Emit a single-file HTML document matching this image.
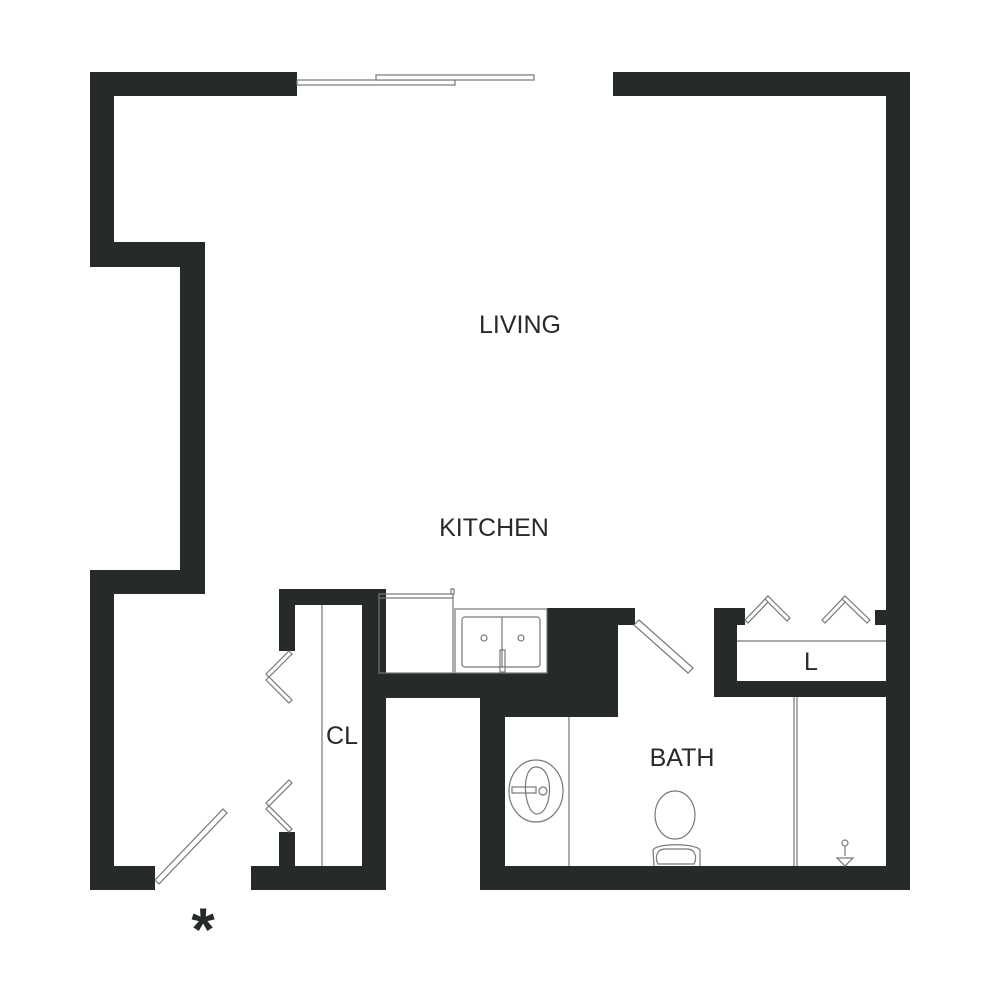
<!DOCTYPE html>
<html><head><meta charset="utf-8"><style>
html,body{margin:0;padding:0;background:#fff}
svg{display:block}
text{font-family:"Liberation Sans",sans-serif;fill:#262a29}
</style></head><body>
<svg width="1000" height="1000" viewBox="0 0 1000 1000" xmlns="http://www.w3.org/2000/svg">
<g fill="#262a29">
<rect x="90" y="72" width="207" height="24"/>
<rect x="90" y="72" width="24" height="195"/>
<rect x="90" y="242" width="115" height="25"/>
<rect x="180" y="242" width="25" height="352"/>
<rect x="90" y="570" width="115" height="24"/>
<rect x="90" y="570" width="24" height="320"/>
<rect x="90" y="866" width="65" height="24"/>
<rect x="613" y="72" width="297" height="24"/>
<rect x="886" y="72" width="24" height="818"/>
<rect x="251" y="866" width="135" height="24"/>
<rect x="279" y="589" width="99" height="16"/>
<rect x="279" y="589" width="16" height="62"/>
<rect x="279" y="832" width="16" height="40"/>
<rect x="362" y="589" width="24" height="301"/>
<rect x="362" y="673" width="140" height="25"/>
<rect x="480" y="673" width="25" height="217"/>
<rect x="480" y="866" width="430" height="24"/>
<rect x="480" y="673" width="138" height="44"/>
<rect x="547" y="608" width="71" height="109"/>
<rect x="547" y="608" width="88" height="17"/>
<rect x="714" y="608" width="31" height="17"/>
<rect x="714" y="608" width="23" height="89"/>
<rect x="714" y="681" width="172" height="16"/>
<rect x="875" y="610" width="11" height="15"/>
</g>
<g fill="none" stroke="#777" stroke-width="1.2">
<rect x="297" y="80" width="158" height="5" fill="#fff"/>
<rect x="376" y="75" width="158" height="5" fill="#fff"/>
<polygon points="155,880 223,809 227,813 159,884" fill="#fff"/>
<line x1="322" y1="605" x2="322" y2="866"/>
<!-- closet bifold panels -->
<polygon points="289,651 292,654 269,677 266,674" fill="#fff"/>
<polygon points="266,680 269,677 292,700 289,703" fill="#fff"/>
<polygon points="289,780 292,783 269,806 266,803" fill="#fff"/>
<polygon points="266,809 269,806 292,829 289,832" fill="#fff"/>
<rect x="379" y="594" width="74" height="79"/>
<line x1="379" y1="598" x2="453" y2="598"/>
<rect x="451" y="589" width="3" height="5"/>
<rect x="455" y="609" width="92" height="64"/>
<rect x="462" y="617" width="78" height="50" rx="3"/>
<line x1="502" y1="617" x2="502" y2="667"/>
<circle cx="484" cy="638" r="3"/>
<circle cx="521" cy="638" r="3"/>
<rect x="500" y="650" width="5" height="22"/>
<polygon points="634,625 639,620 693,668 688,673" fill="#fff"/>
<line x1="569" y1="717" x2="569" y2="866"/>
<ellipse cx="536" cy="791" rx="27" ry="31"/>
<path d="M536,767 C520,767 524,812 536,814 C552,816 556,767 536,767 Z"/>
<rect x="512" y="787" width="24" height="6"/>
<circle cx="543" cy="791" r="4"/>
<ellipse cx="675" cy="815" rx="20" ry="24"/>
<path d="M654,866 L653,850 C656,843 696,843 700,850 L700,866"/>
<path d="M658,864 C655,858 656,850 664,849 L688,849 C696,850 697,858 694,864 Z"/>
<line x1="794" y1="697" x2="794" y2="866"/>
<line x1="797" y1="697" x2="797" y2="866"/>
<polygon points="837,858 853,858 845,866"/>
<circle cx="845" cy="843" r="3"/>
<line x1="845" y1="846" x2="845" y2="856"/>
<line x1="737" y1="641" x2="886" y2="641"/>
<!-- laundry bifold panels -->
<polygon points="745,620 768,596 771,599 748,623" fill="#fff"/>
<polygon points="768,596 790,618 787,621 765,599" fill="#fff"/>
<polygon points="822,620 845,596 848,599 825,623" fill="#fff"/>
<polygon points="845,596 870,620 867,623 842,599" fill="#fff"/>
</g>
<text x="520" y="333" font-size="25" text-anchor="middle">LIVING</text>
<text x="494" y="536" font-size="25" text-anchor="middle">KITCHEN</text>
<text x="682" y="766" font-size="25" text-anchor="middle">BATH</text>
<text x="342" y="744" font-size="25" text-anchor="middle">CL</text>
<text x="811" y="670" font-size="25" text-anchor="middle">L</text>
<text x="203" y="950" font-size="60" font-weight="bold" text-anchor="middle">*</text>
</svg>
</body></html>
